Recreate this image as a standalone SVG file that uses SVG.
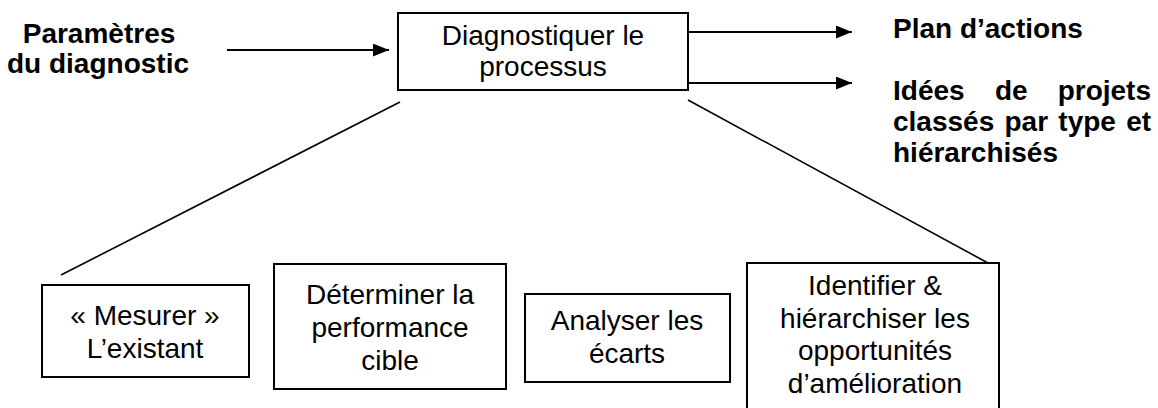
<svg xmlns="http://www.w3.org/2000/svg" width="1158" height="408" viewBox="0 0 1158 408">
<style>
.box{fill:#fff;stroke:#000;stroke-width:2}
.t{font-family:"Liberation Sans",Arial,sans-serif;font-size:28px;fill:#000;text-anchor:middle}
.b{font-family:"Liberation Sans",Arial,sans-serif;font-size:28px;font-weight:bold;fill:#000}
.c{stroke:#000;stroke-width:2;fill:none}
.d{stroke:#000;stroke-width:1.6;fill:none}
</style>
<defs>
<marker id="ah" markerWidth="16" markerHeight="13" refX="16" refY="6.5" orient="auto" markerUnits="userSpaceOnUse">
<path d="M0,0 L16,6.5 L0,13 Z" fill="#000"/>
</marker>
</defs>
<rect width="1158" height="408" fill="#fff"/>
<g id="connectors">
<line class="c" x1="227" y1="50" x2="389" y2="50" marker-end="url(#ah)"/>
<line class="c" x1="688" y1="32" x2="852" y2="32" marker-end="url(#ah)"/>
<line class="c" x1="688" y1="83" x2="852" y2="83" marker-end="url(#ah)"/>
<line class="d" x1="400" y1="102" x2="61" y2="275"/>
<line class="d" x1="688" y1="100" x2="988" y2="263"/>
</g>
<g id="input">
<text class="b" text-anchor="middle"><tspan x="99" y="43">Paramètres</tspan><tspan x="98" y="73">du diagnostic</tspan></text>
</g>
<g id="main">
<rect class="box" x="398" y="13" width="290" height="77"/>
<text class="t"><tspan x="543" y="45">Diagnostiquer le</tspan><tspan x="543" y="76">processus</tspan></text>
</g>
<g id="out1">
<text class="b" x="893" y="38">Plan d’actions</text>
</g>
<g id="out2">
<text class="b"><tspan x="893" y="100">Idées</tspan><tspan x="995" y="100">de</tspan><tspan x="1151" y="100" text-anchor="end">projets</tspan></text>
<text class="b" x="893" y="131" word-spacing="2.5">classés par type et</text>
<text class="b" x="893" y="162">hiérarchisés</text>
</g>
<g id="n1">
<rect class="box" x="42" y="285" width="207" height="92"/>
<text class="t"><tspan x="145" y="325">« Mesurer »</tspan><tspan x="145" y="358">L’existant</tspan></text>
</g>
<g id="n2">
<rect class="box" x="274" y="264" width="232" height="125"/>
<text class="t"><tspan x="390" y="304">Déterminer la</tspan><tspan x="390" y="337">performance</tspan><tspan x="390" y="370">cible</tspan></text>
</g>
<g id="n3">
<rect class="box" x="525" y="294" width="205" height="88"/>
<text class="t"><tspan x="627" y="330">Analyser les</tspan><tspan x="627" y="363">écarts</tspan></text>
</g>
<g id="n4">
<rect class="box" x="747" y="263" width="252" height="160"/>
<text class="t"><tspan x="875" y="295">Identifier &amp;</tspan><tspan x="875" y="328">hiérarchiser les</tspan><tspan x="875" y="360">opportunités</tspan><tspan x="875" y="393">d’amélioration</tspan></text>
</g>
</svg>
